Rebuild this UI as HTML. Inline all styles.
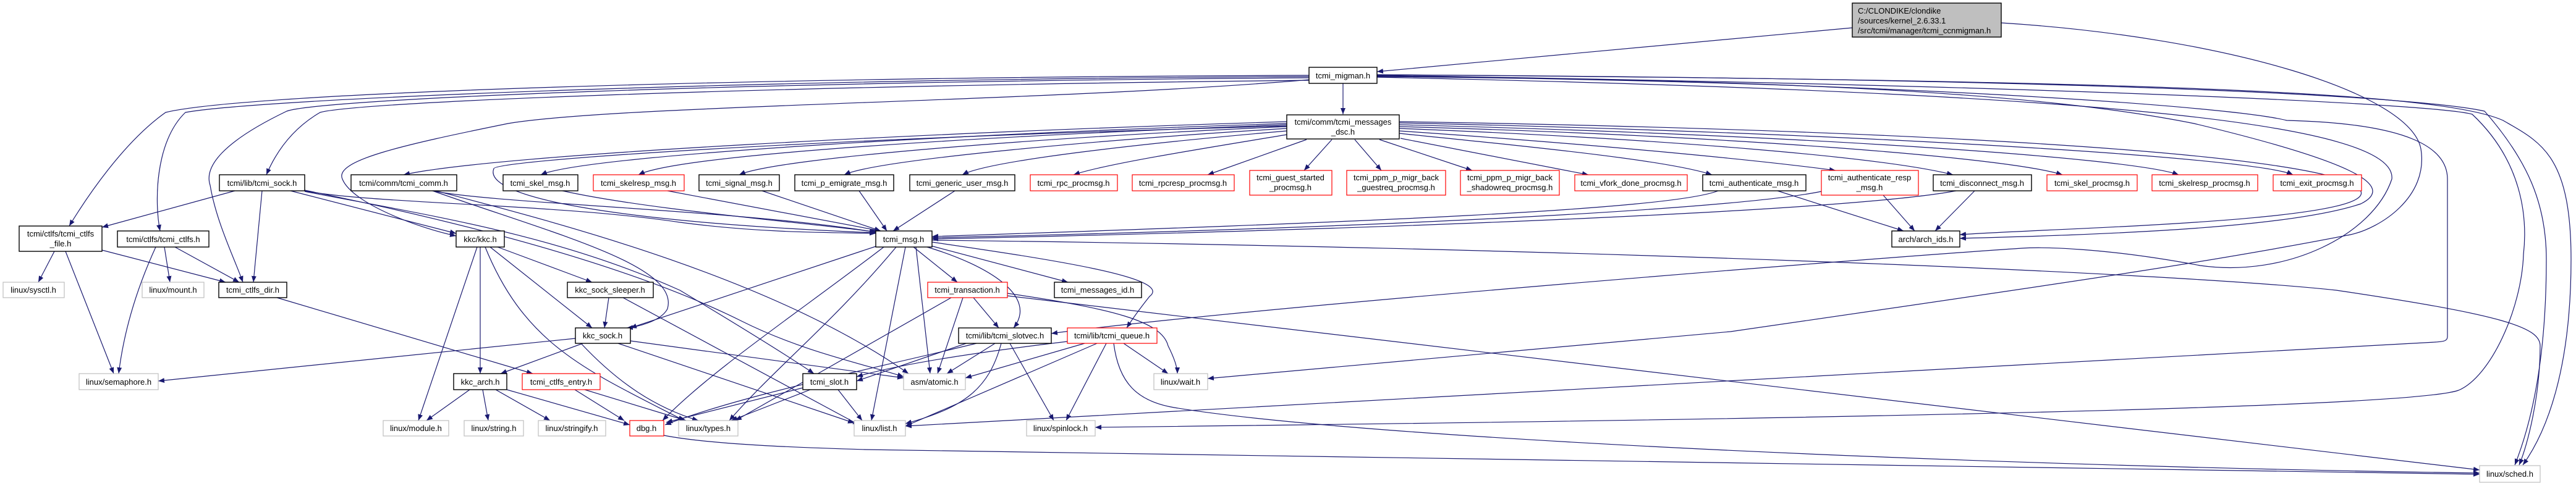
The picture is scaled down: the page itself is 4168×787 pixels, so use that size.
<!DOCTYPE html>
<html><head><meta charset="utf-8"><style>
html,body{margin:0;padding:0;background:#fff;}
svg{display:block;}
text{font-family:"Liberation Sans",Arial,sans-serif;font-size:13px;fill:#000;}
.e{fill:none;stroke:#191970;stroke-width:1.2;marker-end:url(#a);}
.b{fill:#fff;stroke:#000;stroke-width:1.4;}
.r{fill:#fff;stroke:#ff0000;stroke-width:1.2;}
.g{fill:#fff;stroke:#bfbfbf;stroke-width:1.2;}
</style></head><body>
<svg width="4168" height="787" viewBox="0 0 4168 787" xmlns="http://www.w3.org/2000/svg">
<defs><marker id="a" viewBox="0 0 10 8" refX="10" refY="4" markerWidth="10" markerHeight="8" markerUnits="userSpaceOnUse" orient="auto"><path d="M0,0 L10,4 L0,8 z" fill="#191970"/></marker></defs>
<g>
<!-- top -->
<path class="e" d="M2997,45 L2228,116"/>
<path class="e" d="M3238,37 C3600,60 3900,150 3917,241 C3930,320 3850,370 3803,380 C3600,420 3400,450 2800,537 L1954,613"/>
<!-- migman -->
<path class="e" d="M2173,135 L2173,185"/>
<path class="e" d="M2118,122 C1200,125 400,150 268,182 C200,230 140,320 112,366"/>
<path class="e" d="M2118,124 C1200,128 420,160 300,182 C250,230 250,330 259,374"/>
<path class="e" d="M2118,126 C1200,132 520,160 464,180 C360,230 330,270 340,300 C350,360 380,420 393,457"/>
<path class="e" d="M2118,130 C1200,140 580,165 518,182 C470,210 445,250 431,283"/>
<path class="e" d="M2119,129 C1700,165 1000,170 822,200 C650,235 540,260 554,290 C570,330 680,370 738,382"/>
<path class="e" d="M2228,123 C2900,130 3300,150 3550,200 C3800,260 3880,300 3820,330 C3700,370 3400,380 3171,386"/>
<path class="e" d="M2228,124 C3000,130 3600,170 3700,195 C3900,200 3960,240 3960,290 L3960,545 C3960,552 3955,553 3940,554 L1465,690"/>
<path class="e" d="M2228,122 C3400,140 3950,170 4000,185 C4080,260 4090,350 4083,412 C4080,500 4030,610 3978,632 C3900,660 3000,678 1772,692"/>
<path class="e" d="M2228,121 C3500,130 3950,150 4050,195 C4110,230 4160,250 4160,420 C4160,600 4120,700 4082,753"/>
<path class="e" d="M2228,121 C3500,128 3930,160 4020,180 C4090,260 4120,330 4120,420 C4120,600 4090,700 4069,753"/>
<path class="e" d="M2228,125 C3400,150 3880,200 3870,290 C3840,380 3700,450 3560,430 C3400,400 3300,400 3271,402 C3000,420 2000,500 1701,540"/>
<!-- dsc fan left -->
<path class="e" d="M2082,197 C1500,215 800,250 653,283"/>
<path class="e" d="M2082,200 C1600,215 950,250 875,283"/>
<path class="e" d="M2082,202 C1600,220 1100,250 1033,283"/>
<path class="e" d="M2082,205 C1700,222 1260,255 1196,283"/>
<path class="e" d="M2082,208 C1800,225 1420,258 1366,283"/>
<path class="e" d="M2082,212 C1850,232 1600,260 1557,283"/>
<path class="e" d="M2082,218 C1950,240 1790,265 1737,283"/>
<path class="e" d="M2114,226 L1954,283"/>
<path class="e" d="M2155,226 L2110,276"/>
<path class="e" d="M2192,226 L2235,276"/>
<path class="e" d="M2232,226 L2382,276"/>
<path class="e" d="M2266,224 L2570,283"/>
<path class="e" d="M2264,216 C2500,240 2700,260 2770,283"/>
<path class="e" d="M2264,212 C2600,235 2850,260 2970,276"/>
<path class="e" d="M2264,208 C2700,225 3050,255 3160,283"/>
<path class="e" d="M2264,205 C2800,220 3250,255 3337,283"/>
<path class="e" d="M2264,202 C2900,218 3450,255 3525,283"/>
<path class="e" d="M2264,199 C3000,215 3650,255 3710,283"/>
<path class="e" d="M2082,204 C1300,225 800,260 799,273 C780,320 1000,360 1417,377"/>
<path class="e" d="M2264,197 C3100,210 3800,250 3820,310 C3840,360 3300,370 3171,380"/>
<!-- msg row to tcmi_msg -->
<path class="e" d="M700,309 C800,330 1200,340 1417,376"/>
<path class="e" d="M910,309 C1050,340 1300,360 1420,376"/>
<path class="e" d="M1080,309 C1250,340 1350,360 1425,374"/>
<path class="e" d="M1233,309 L1425,374"/>
<path class="e" d="M1390,309 L1435,374"/>
<path class="e" d="M1545,309 L1445,374"/>
<path class="e" d="M2780,309 C2700,340 2200,360 1508,383"/>
<path class="e" d="M2947,310 C2800,340 2200,370 1508,385"/>
<path class="e" d="M3165,309 C3000,340 2300,370 1508,387"/>
<path class="e" d="M2876,309 L3080,374"/>
<path class="e" d="M3047,316 L3098,374"/>
<path class="e" d="M3195,309 L3131,374"/>
<!-- tcmi_sock -->
<path class="e" d="M380,309 L165,368"/>
<path class="e" d="M424,309 L410,457"/>
<path class="e" d="M470,309 L738,378"/>
<path class="e" d="M493,309 C600,330 900,330 1100,360 C1250,380 1380,376 1417,378"/>
<path class="e" d="M493,310 C700,350 900,380 1100,470 C1200,530 1280,580 1317,605"/>
<path class="e" d="M493,308 C700,350 1000,420 1200,520 C1300,570 1400,590 1462,610"/>
<!-- comm -->
<path class="e" d="M700,309 C900,380 1100,430 1080,500 C1070,520 1030,530 1014,531"/>
<path class="e" d="M705,309 C900,360 1250,450 1470,605"/>
<!-- ctlfs -->
<path class="e" d="M88,407 L62,457"/>
<path class="e" d="M106,407 L184,605"/>
<path class="e" d="M165,405 L365,457"/>
<path class="e" d="M283,400 L387,457"/>
<path class="e" d="M266,400 L275,457"/>
<path class="e" d="M252,400 C220,470 200,540 192,605"/>
<path class="e" d="M448,482 L862,605"/>
<!-- kkc -->
<path class="e" d="M805,400 L958,457"/>
<path class="e" d="M793,400 L958,531"/>
<path class="e" d="M777,400 L777,605"/>
<path class="e" d="M772,400 L677,681"/>
<path class="e" d="M785,400 C850,560 950,600 1107,681"/>
<path class="e" d="M985,482 L978,531"/>
<path class="e" d="M1008,482 L1390,688"/>
<path class="e" d="M931,548 L256,617"/>
<path class="e" d="M943,556 L810,605"/>
<path class="e" d="M1000,556 L1382,685"/>
<path class="e" d="M1020,552 L1462,612"/>
<path class="e" d="M940,556 C1000,620 1060,660 1130,681"/>
<path class="e" d="M760,631 L690,681"/>
<path class="e" d="M781,631 L790,681"/>
<path class="e" d="M802,631 L890,681"/>
<path class="e" d="M820,631 L1019,688"/>
<path class="e" d="M930,631 L1010,681"/>
<path class="e" d="M946,631 L1110,681"/>
<path class="e" d="M1356,631 L1395,681"/>
<path class="e" d="M1311,631 L1183,681"/>
<path class="e" d="M1299,628 L1078,684"/>
<!-- tcmi_msg -->
<path class="e" d="M1478,400 L1549,457"/>
<path class="e" d="M1506,398 L1728,457"/>
<path class="e" d="M1500,400 C1600,430 1680,480 1640,531"/>
<path class="e" d="M1508,392 C1700,420 1900,450 1860,480 C1840,505 1830,520 1823,531"/>
<path class="e" d="M1482,400 L1505,605"/>
<path class="e" d="M1465,400 L1410,681"/>
<path class="e" d="M1450,400 C1350,520 1250,600 1180,681"/>
<path class="e" d="M1420,398 L1020,531"/>
<path class="e" d="M1508,389 C2500,400 3500,440 3780,470 C4050,510 4110,530 4110,560 C4110,640 4090,720 4076,753"/>
<path class="e" d="M1430,400 C1300,500 1150,600 1072,681"/>
<!-- transaction -->
<path class="e" d="M1575,482 L1616,531"/>
<path class="e" d="M1539,482 L1190,681"/>
<path class="e" d="M1558,482 L1517,605"/>
<path class="e" d="M1630,475 C1800,500 1880,520 1890,560 C1900,580 1905,595 1905,605"/>
<path class="e" d="M1630,479 L4012,761"/>
<!-- slotvec -->
<path class="e" d="M1610,556 L1532,605"/>
<path class="e" d="M1620,556 C1600,630 1560,660 1465,686"/>
<path class="e" d="M1634,556 L1705,681"/>
<path class="e" d="M1580,556 C1400,600 1200,640 1076,688"/>
<path class="e" d="M1575,552 L1386,617"/>
<!-- queue -->
<path class="e" d="M1755,556 L1562,612"/>
<path class="e" d="M1818,556 L1890,605"/>
<path class="e" d="M1790,556 L1725,681"/>
<path class="e" d="M1775,556 L1465,690"/>
<path class="e" d="M1802,556 C1810,620 1840,650 1900,660 C2200,710 3200,755 4012,766"/>
<path class="e" d="M1727,553 C1500,580 1420,600 1386,610"/>
<!-- dbg -->
<path class="e" d="M1074,705 C1150,720 1300,725 1400,728 L4012,768"/>
</g>
<g>
<rect x="2997" y="5" width="241" height="55" fill="#bfbfbf" stroke="#000" stroke-width="1.4"/>
<text x="3006" y="22">C:/CLONDIKE/clondike</text><text x="3006" y="38">/sources/kernel_2.6.33.1</text><text x="3006" y="54">/src/tcmi/manager/tcmi_ccnmigman.h</text>
<rect class="b" x="2118" y="109" width="110" height="26"/><text x="2173" y="127" text-anchor="middle">tcmi_migman.h</text>
<rect class="b" x="2082" y="186" width="182" height="39"/><text x="2173" y="202" text-anchor="middle">tcmi/comm/tcmi_messages</text><text x="2173" y="218" text-anchor="middle">_dsc.h</text>
<rect class="b" x="355" y="283" width="138" height="26"/><text x="424" y="301" text-anchor="middle">tcmi/lib/tcmi_sock.h</text>
<rect class="b" x="568" y="283" width="171" height="26"/><text x="653" y="301" text-anchor="middle">tcmi/comm/tcmi_comm.h</text>
<rect class="b" x="814" y="283" width="121" height="26"/><text x="874" y="301" text-anchor="middle">tcmi_skel_msg.h</text>
<rect class="r" x="960" y="283" width="147" height="26"/><text x="1033" y="301" text-anchor="middle">tcmi_skelresp_msg.h</text>
<rect class="b" x="1131" y="283" width="130" height="26"/><text x="1196" y="301" text-anchor="middle">tcmi_signal_msg.h</text>
<rect class="b" x="1286" y="283" width="160" height="26"/><text x="1366" y="301" text-anchor="middle">tcmi_p_emigrate_msg.h</text>
<rect class="b" x="1472" y="283" width="170" height="26"/><text x="1557" y="301" text-anchor="middle">tcmi_generic_user_msg.h</text>
<rect class="r" x="1667" y="283" width="141" height="26"/><text x="1737" y="301" text-anchor="middle">tcmi_rpc_procmsg.h</text>
<rect class="r" x="1832" y="283" width="165" height="26"/><text x="1914" y="301" text-anchor="middle">tcmi_rpcresp_procmsg.h</text>
<rect class="r" x="2022" y="276" width="133" height="40"/><text x="2088" y="292" text-anchor="middle">tcmi_guest_started</text><text x="2088" y="308" text-anchor="middle">_procmsg.h</text>
<rect class="r" x="2179" y="276" width="160" height="40"/><text x="2259" y="292" text-anchor="middle">tcmi_ppm_p_migr_back</text><text x="2259" y="308" text-anchor="middle">_guestreq_procmsg.h</text>
<rect class="r" x="2363" y="276" width="160" height="40"/><text x="2443" y="292" text-anchor="middle">tcmi_ppm_p_migr_back</text><text x="2443" y="308" text-anchor="middle">_shadowreq_procmsg.h</text>
<rect class="r" x="2548" y="283" width="182" height="26"/><text x="2639" y="301" text-anchor="middle">tcmi_vfork_done_procmsg.h</text>
<rect class="b" x="2755" y="283" width="167" height="26"/><text x="2838" y="301" text-anchor="middle">tcmi_authenticate_msg.h</text>
<rect class="r" x="2947" y="276" width="157" height="40"/><text x="3025" y="292" text-anchor="middle">tcmi_authenticate_resp</text><text x="3025" y="308" text-anchor="middle">_msg.h</text>
<rect class="b" x="3128" y="283" width="159" height="26"/><text x="3207" y="301" text-anchor="middle">tcmi_disconnect_msg.h</text>
<rect class="r" x="3312" y="283" width="146" height="26"/><text x="3385" y="301" text-anchor="middle">tcmi_skel_procmsg.h</text>
<rect class="r" x="3482" y="283" width="171" height="26"/><text x="3567" y="301" text-anchor="middle">tcmi_skelresp_procmsg.h</text>
<rect class="r" x="3678" y="283" width="143" height="26"/><text x="3749" y="301" text-anchor="middle">tcmi_exit_procmsg.h</text>
<rect class="b" x="31" y="366" width="134" height="41"/><text x="98" y="383" text-anchor="middle">tcmi/ctlfs/tcmi_ctlfs</text><text x="98" y="399" text-anchor="middle">_file.h</text>
<rect class="b" x="190" y="374" width="148" height="26"/><text x="264" y="392" text-anchor="middle">tcmi/ctlfs/tcmi_ctlfs.h</text>
<rect class="b" x="738" y="374" width="78" height="26"/><text x="777" y="392" text-anchor="middle">kkc/kkc.h</text>
<rect class="b" x="1417" y="374" width="91" height="26"/><text x="1462" y="392" text-anchor="middle">tcmi_msg.h</text>
<rect class="b" x="3061" y="374" width="110" height="26"/><text x="3116" y="392" text-anchor="middle">arch/arch_ids.h</text>
<rect class="g" x="5" y="457" width="99" height="25"/><text x="54" y="474" text-anchor="middle">linux/sysctl.h</text>
<rect class="g" x="230" y="457" width="100" height="25"/><text x="280" y="474" text-anchor="middle">linux/mount.h</text>
<rect class="b" x="354" y="457" width="110" height="25"/><text x="409" y="474" text-anchor="middle">tcmi_ctlfs_dir.h</text>
<rect class="b" x="918" y="457" width="139" height="25"/><text x="987" y="474" text-anchor="middle">kkc_sock_sleeper.h</text>
<rect class="r" x="1501" y="457" width="129" height="25"/><text x="1565" y="474" text-anchor="middle">tcmi_transaction.h</text>
<rect class="b" x="1706" y="457" width="141" height="25"/><text x="1776" y="474" text-anchor="middle">tcmi_messages_id.h</text>
<rect class="b" x="931" y="531" width="89" height="25"/><text x="975" y="548" text-anchor="middle">kkc_sock.h</text>
<rect class="b" x="1551" y="531" width="150" height="25"/><text x="1626" y="548" text-anchor="middle">tcmi/lib/tcmi_slotvec.h</text>
<rect class="r" x="1727" y="531" width="145" height="25"/><text x="1799" y="548" text-anchor="middle">tcmi/lib/tcmi_queue.h</text>
<rect class="g" x="128" y="605" width="128" height="26"/><text x="192" y="623" text-anchor="middle">linux/semaphore.h</text>
<rect class="b" x="734" y="605" width="86" height="26"/><text x="777" y="623" text-anchor="middle">kkc_arch.h</text>
<rect class="r" x="845" y="605" width="126" height="26"/><text x="908" y="623" text-anchor="middle">tcmi_ctlfs_entry.h</text>
<rect class="b" x="1299" y="605" width="87" height="26"/><text x="1342" y="623" text-anchor="middle">tcmi_slot.h</text>
<rect class="g" x="1462" y="605" width="100" height="26"/><text x="1512" y="623" text-anchor="middle">asm/atomic.h</text>
<rect class="g" x="1867" y="605" width="87" height="26"/><text x="1910" y="623" text-anchor="middle">linux/wait.h</text>
<rect class="g" x="620" y="681" width="106" height="25"/><text x="673" y="698" text-anchor="middle">linux/module.h</text>
<rect class="g" x="751" y="681" width="96" height="25"/><text x="799" y="698" text-anchor="middle">linux/string.h</text>
<rect class="g" x="871" y="681" width="109" height="25"/><text x="925" y="698" text-anchor="middle">linux/stringify.h</text>
<rect class="r" x="1019" y="681" width="55" height="25"/><text x="1046" y="698" text-anchor="middle">dbg.h</text>
<rect class="g" x="1098" y="681" width="96" height="25"/><text x="1146" y="698" text-anchor="middle">linux/types.h</text>
<rect class="g" x="1382" y="681" width="83" height="25"/><text x="1423" y="698" text-anchor="middle">linux/list.h</text>
<rect class="g" x="1661" y="681" width="111" height="25"/><text x="1716" y="698" text-anchor="middle">linux/spinlock.h</text>
<rect class="g" x="4012" y="754" width="98" height="27"/><text x="4061" y="772" text-anchor="middle">linux/sched.h</text>
</g>
</svg>
</body></html>
